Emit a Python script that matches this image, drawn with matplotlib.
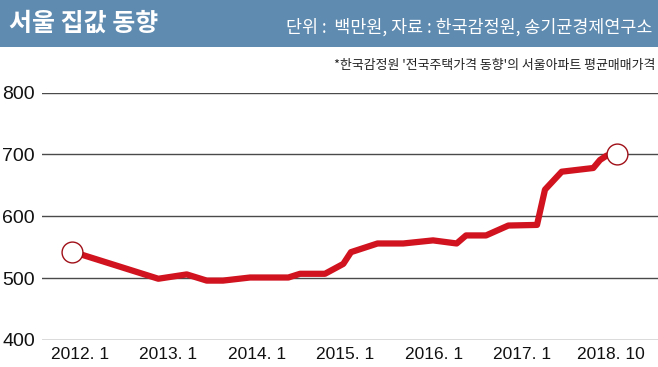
import matplotlib
matplotlib.use("Agg")
import matplotlib.pyplot as plt
from matplotlib.patches import Rectangle

plt.rcParams['font.family'] = ['Noto Sans CJK KR', 'DejaVu Sans']

# Data (x in "label-period" units: 0 = 2012.1 tick, 6 = 2018.10 tick)
x_pos = [-0.094, 0.885, 1.206, 1.432, 1.616, 1.921, 2.354, 2.486, 2.768,
         2.975, 3.062, 3.362, 3.653, 3.989, 4.256, 4.362, 4.588, 4.840,
         5.164, 5.254, 5.443, 5.800, 5.876, 5.951, 6.064]
price = [543, 499, 506, 496, 496, 501, 501, 507, 507,
         523, 542, 556, 556, 561, 556, 569, 569, 585,
         586, 643, 672, 678, 691, 698, 701]
tick_pos = [0, 1, 2, 3, 4, 5, 6]
tick_labels = ['2012. 1', '2013. 1', '2014. 1', '2015. 1', '2016. 1', '2017. 1', '2018. 10']
y_ticks = [400, 500, 600, 700, 800]

title = '서울 집값 동향'
source = '단위 :  백만원, 자료 : 한국감정원, 송기균경제연구소'
note = "*한국감정원 '전국주택가격 동향'의 서울아파트 평균매매가격"

W, H = 658, 367
fig = plt.figure(figsize=(W / 100, H / 100), dpi=100)
fig.patch.set_facecolor('white')

# header band
fig.patches.append(Rectangle((0, 1 - 47 / H), 1, 47 / H, transform=fig.transFigure,
                             facecolor='#5f8bb0', edgecolor='none', zorder=0))
fig.text(9 / W, 1 - 24 / H, title, color='white', fontsize=18, fontweight='bold',
         ha='left', va='center')
fig.text(652 / W, 1 - 27 / H, source, color='white', fontsize=12.5,
         ha='right', va='center')
fig.text(655 / W, 1 - 66 / H, note, color='#222222', fontsize=9.3,
         ha='right', va='center')

left, right = 42, 658
top, bottom = 92.5, 340
ax = fig.add_axes([left / W, 1 - bottom / H, (right - left) / W, (bottom - top) / H])
ax.set_xlim((left - 80) / 88.5, (right - 80) / 88.5)
ax.set_ylim(400, 800)
for s in ax.spines.values():
    s.set_visible(False)
ax.set_yticks(y_ticks)
ax.set_yticklabels([str(v) for v in y_ticks], fontsize=14, color='#111111',
                   family=['Liberation Sans', 'DejaVu Sans'])
ax.set_xticks(tick_pos)
ax.set_xticklabels(tick_labels, fontsize=12.5, color='#111111',
                   family=['Liberation Sans Narrow', 'Liberation Sans', 'DejaVu Sans'])
ax.tick_params(axis='both', length=0)
ax.tick_params(axis='y', pad=5)
ax.tick_params(axis='x', pad=5)
ax.yaxis.grid(True, color='#4a4a4a', linewidth=1.0)
ax.set_axisbelow(True)

ax.plot(x_pos, price, color='#d0131f', linewidth=4.5, solid_joinstyle='round',
        solid_capstyle='round', zorder=3, clip_on=False)
ax.plot([x_pos[0], x_pos[-1]], [price[0], price[-1]], linestyle='none', marker='o',
        markersize=15, markerfacecolor='white', markeredgecolor='#a01018',
        markeredgewidth=1.0, zorder=4, clip_on=False)

fig.savefig('out.png', dpi=100)
